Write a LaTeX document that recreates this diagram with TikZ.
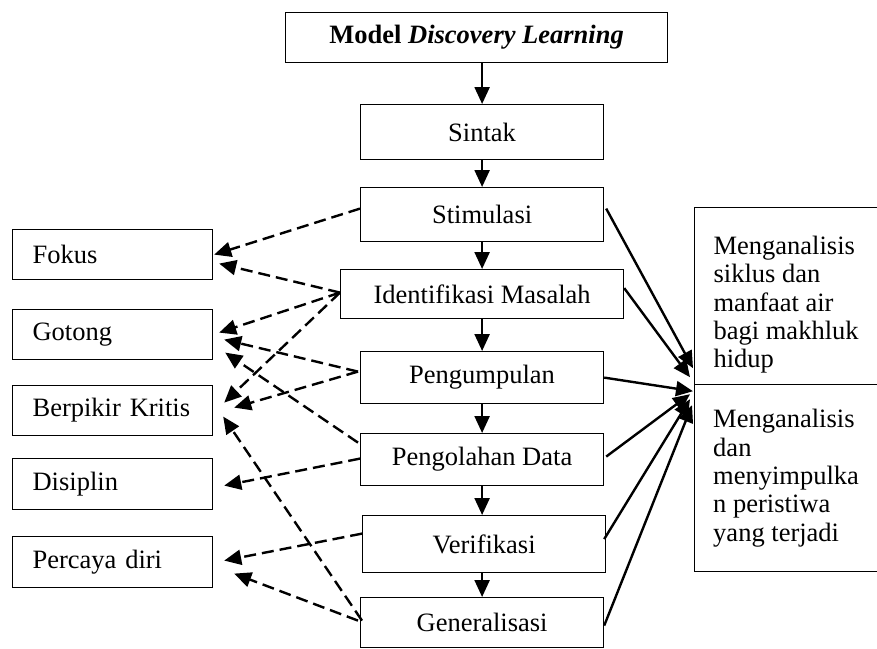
\documentclass[tikz,border=0pt]{standalone}
\usepackage{fontspec}
\setmainfont{Liberation Serif}
\usetikzlibrary{arrows.meta,calc}
\newcommand\dlfs{\fontsize{26.5}{28.3}\selectfont}
\begin{document}
\begin{tikzpicture}[x=1pt,y=-1pt,
  midbox/.style={draw, line width=1.2pt, anchor=north west, inner sep=0pt, font=\dlfs},
  leftbox/.style={draw, line width=1.2pt, anchor=north west, inner ysep=0pt, inner xsep=20pt,
     text width=160pt, align=left, minimum height=50pt, font=\dlfs},
  rightbox/.style={draw, line width=1.2pt, anchor=north west, inner ysep=0pt, inner xsep=18pt,
     align=left, minimum width=183pt, font=\dlfs},
  solidarr/.style={line width=2.4pt, -{Triangle[length=17pt,width=15pt]}},
  dasharr/.style={line width=2.4pt, dash pattern=on 12pt off 6pt, -{Triangle[length=17pt,width=15pt]}}
]
\useasboundingbox (0,0) rectangle (877,648);

% centre column
\node[midbox, minimum width=382pt, minimum height=50pt] (top) at (285,12) {\textbf{Model \textit{Discovery Learning}}};
\node[midbox, minimum width=243pt, minimum height=55pt] (sintak) at (360,104) {Sintak};
\node[midbox, minimum width=243pt, minimum height=54pt] (stim) at (360,187) {Stimulasi};
\node[midbox, minimum width=283pt, minimum height=49pt] (ident) at (340,269) {Identifikasi Masalah};
\node[midbox, minimum width=243pt, minimum height=52pt] (peng) at (360,351) {Pengumpulan};
\node[midbox, minimum width=243pt, minimum height=52pt] (pengol) at (360,433) {Pengolahan Data};
\node[midbox, minimum width=243pt, minimum height=57pt] (verif) at (362,515) {Verifikasi};
\node[midbox, minimum width=243pt, minimum height=50pt] (gen) at (360,597) {Generalisasi};

% left column
\node[leftbox] (fokus) at (12,229) {Fokus};
\node[leftbox] (gotong) at (12,309) {Gotong};
\node[leftbox] (berp) at (12,385) {Berpikir Kritis};
\node[leftbox, minimum height=51pt] (disip) at (12,458) {Disiplin};
\node[leftbox, minimum height=51pt] (perc) at (12,536) {Percaya diri};

% right column
\node[rightbox, minimum height=177pt] (rtop) at (694,207) {\rule{0pt}{36pt}Menganalisis\\ siklus dan\\ manfaat air\\ bagi makhluk\\ hidup};
\node[rightbox, minimum height=187pt] (rbot) at (694,384) {Menganalisis\\ dan\\ menyimpulka\\ n peristiwa\\ yang terjadi};

% vertical flow
\draw[solidarr] (sintak.north |- top.south) -- (sintak.north);
\draw[solidarr] (sintak.south) -- (stim.north);
\draw[solidarr] (stim.south) -- (stim.south |- ident.north);
\draw[solidarr] (stim.south |- ident.south) -- (peng.north);
\draw[solidarr] (peng.south) -- (pengol.north);
\draw[solidarr] (pengol.south) -- (pengol.south |- verif.north);
\draw[solidarr] (pengol.south |- verif.south) -- (gen.north);

% dashed links to attitudes
\draw[dasharr] ($(stim.west)+(0,-6)$) -- ($(fokus.east)+(1,0)$);
\draw[dasharr] ($(ident.west)+(0,-1.5)$) -- ($(fokus.east)+(6,9)$);
\draw[dasharr] ($(ident.west)+(0,-1.5)$) -- ($(gotong.east)+(6,-2)$);
\draw[dasharr] ($(ident.west)+(0,-1.5)$) -- ($(berp.east)+(11,-8)$);
\draw[dasharr] ($(peng.west)+(-2,-6)$) -- ($(gotong.east)+(11,5)$);
\draw[dasharr] ($(peng.west)+(-2,-6)$) -- ($(berp.east)+(21,-3)$);
\draw[dasharr] ($(pengol.west)+(-2,-17)$) -- ($(gotong.east)+(12,18)$);
\draw[dasharr] ($(pengol.west)+(0,-1)$) -- ($(disip.east)+(11,1.5)$);
\draw[dasharr] ($(gen.west)+(2,-2)$) -- ($(berp.east)+(10,6)$);
\draw[dasharr] ($(verif.west)+(0,-10.5)$) -- ($(perc.east)+(11,-1.5)$);
\draw[dasharr] ($(gen.west)+(-2,-2)$) -- ($(perc.east)+(21,11.5)$);

% solid links to objectives
\draw[solidarr] ($(stim.east)+(2,-6)$) -- ($(rtop.south west)+(-1,-17)$);
\draw[solidarr] ($(ident.east)+(0,-6)$) -- ($(rtop.south west)+(-4,-8)$);
\draw[solidarr] (peng.east) -- ($(rtop.south west)+(-1,6)$);
\draw[solidarr] ($(pengol.east)+(2,-3)$) -- ($(rtop.south west)+(-4,9)$);
\draw[solidarr] ($(verif.east)+(-2,-5)$) -- ($(rtop.south west)+(-4,14)$);
\draw[solidarr] ($(gen.east)+(0,3)$) -- ($(rtop.south west)+(-2,20)$);
\end{tikzpicture}
\end{document}
